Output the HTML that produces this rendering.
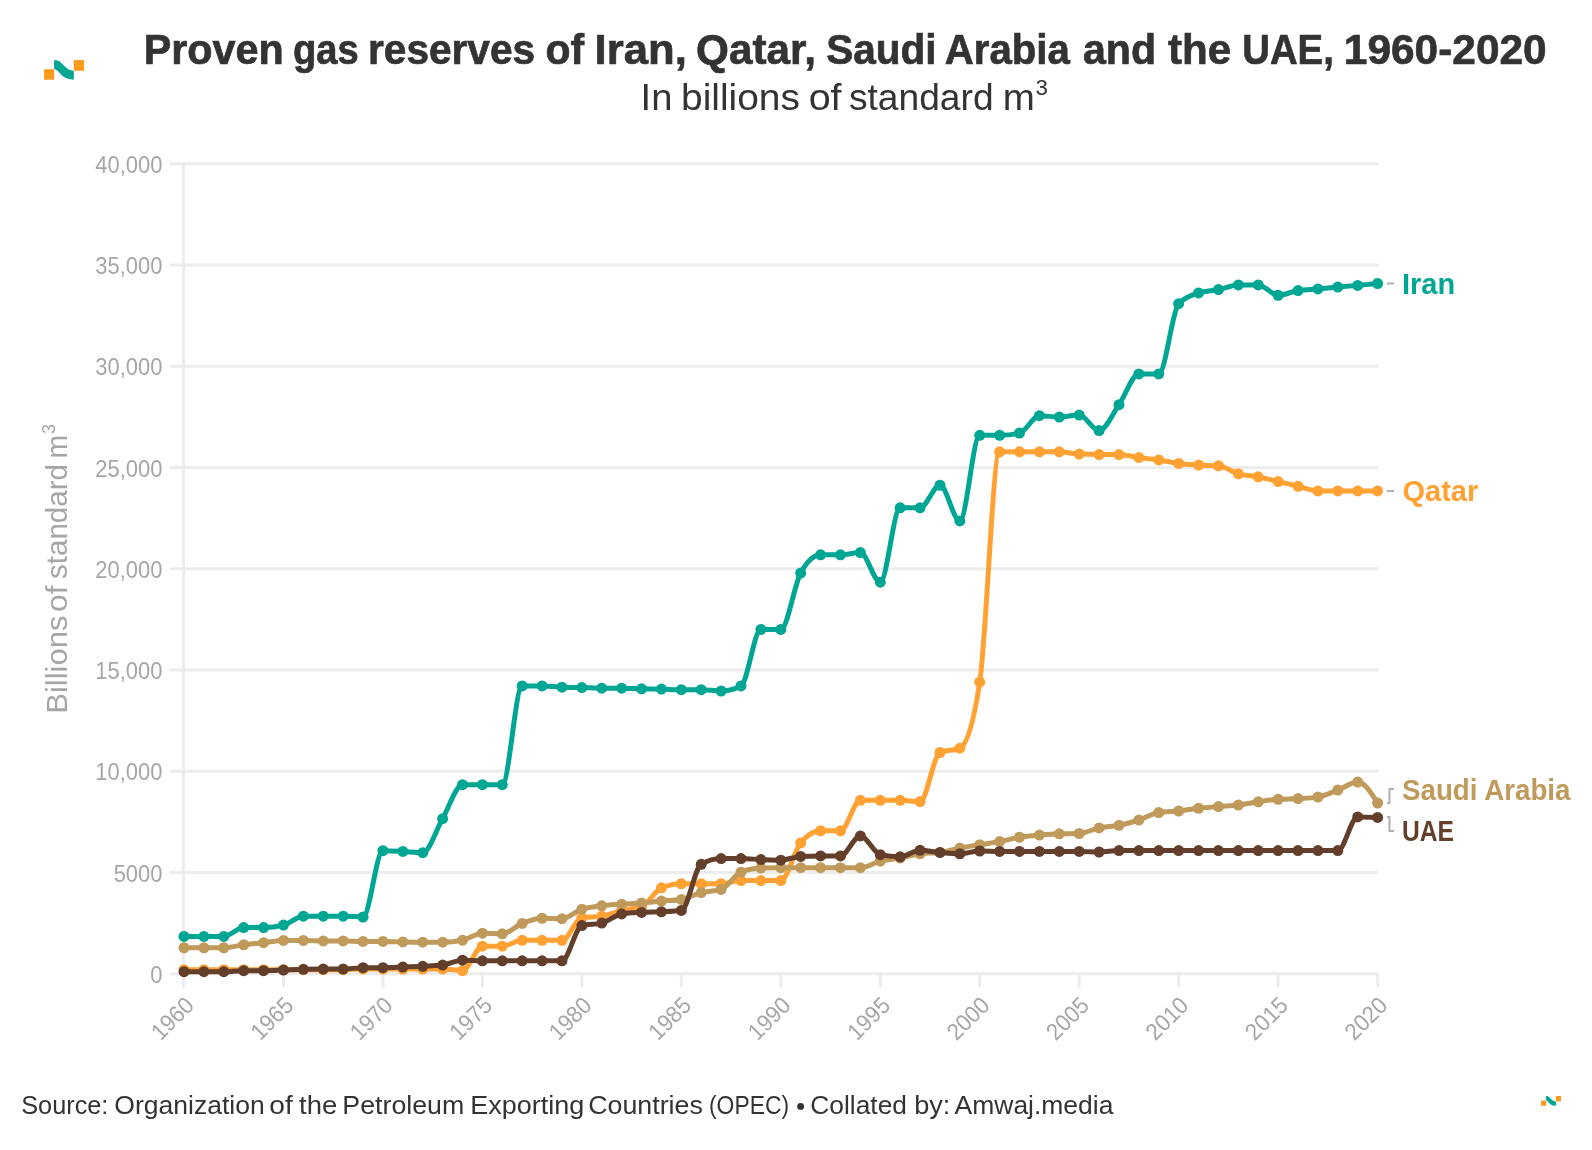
<!DOCTYPE html>
<html><head><meta charset="utf-8"><style>
html,body{margin:0;padding:0;background:#fff;width:1592px;height:1150px;overflow:hidden}
svg{display:block;will-change:transform}
text{font-family:"Liberation Sans",sans-serif}
.ax{font-size:23.5px;fill:#a6a6a6}
.yl{font-size:23px;fill:#a6a6a6}
.yt{font-size:29.6px;fill:#a6a6a6}
.lab{font-size:29px;font-weight:bold}
</style></head><body>
<svg width="1592" height="1150" viewBox="0 0 1592 1150">
<rect width="1592" height="1150" fill="#fff"/>
<!-- logo -->
<g id="lg" transform="translate(44,60)">
<rect x="0.1" y="9.2" width="10" height="10.5" fill="#ff9a1a"/>
<rect x="29.8" y="0.1" width="10.2" height="10.7" fill="#ff9a1a"/>
<path d="M10.1,0.1 C15,0.2 17.5,3 20,5.8 C23,9 26,10.6 29.8,10.8 L29.8,19.7 C26,19.6 22,18.4 19,16.3 C16.5,14.5 14.5,11.5 13.1,10.5 C12,9.7 11,9.2 10.1,9 Z" fill="#00a690"/>
</g>
<g font-size="42.7" font-weight="bold" fill="#333" stroke="#333" stroke-width="0.7"><text x="143.7" y="64.2" textLength="140.0" lengthAdjust="spacingAndGlyphs">Proven</text><text x="292.9" y="64.2" textLength="65.8" lengthAdjust="spacingAndGlyphs">gas</text><text x="368.0" y="64.2" textLength="167.1" lengthAdjust="spacingAndGlyphs">reserves</text><text x="545.4" y="64.2" textLength="38.7" lengthAdjust="spacingAndGlyphs">of</text><text x="594.6" y="64.2" textLength="92.3" lengthAdjust="spacingAndGlyphs">Iran,</text><text x="696.1" y="64.2" textLength="119.9" lengthAdjust="spacingAndGlyphs">Qatar,</text><text x="826.2" y="64.2" textLength="110.4" lengthAdjust="spacingAndGlyphs">Saudi</text><text x="944.8" y="64.2" textLength="125.1" lengthAdjust="spacingAndGlyphs">Arabia</text><text x="1082.9" y="64.2" textLength="73.2" lengthAdjust="spacingAndGlyphs">and</text><text x="1168.1" y="64.2" textLength="63.2" lengthAdjust="spacingAndGlyphs">the</text><text x="1242.3" y="64.2" textLength="91.5" lengthAdjust="spacingAndGlyphs">UAE,</text><text x="1343.8" y="64.2" textLength="202.9" lengthAdjust="spacingAndGlyphs">1960-2020</text></g>
<g font-size="37.5" fill="#333"><text x="640.6" y="110" textLength="31.8" lengthAdjust="spacingAndGlyphs">In</text><text x="681.0" y="110" textLength="118.9" lengthAdjust="spacingAndGlyphs">billions</text><text x="808.7" y="110" textLength="32.9" lengthAdjust="spacingAndGlyphs">of</text><text x="848.9" y="110" textLength="144.7" lengthAdjust="spacingAndGlyphs">standard</text><text x="1002.8" y="110" textLength="32.1" lengthAdjust="spacingAndGlyphs">m</text></g>
<text x="1035.5" y="95.2" font-size="22.3" fill="#333">3</text>
<line x1="170" y1="973.70" x2="1378.2" y2="973.70" stroke="#ececec" stroke-width="3"/>
<line x1="170" y1="872.45" x2="1378.2" y2="872.45" stroke="#ececec" stroke-width="3"/>
<line x1="170" y1="771.20" x2="1378.2" y2="771.20" stroke="#ececec" stroke-width="3"/>
<line x1="170" y1="669.95" x2="1378.2" y2="669.95" stroke="#ececec" stroke-width="3"/>
<line x1="170" y1="568.70" x2="1378.2" y2="568.70" stroke="#ececec" stroke-width="3"/>
<line x1="170" y1="467.45" x2="1378.2" y2="467.45" stroke="#ececec" stroke-width="3"/>
<line x1="170" y1="366.20" x2="1378.2" y2="366.20" stroke="#ececec" stroke-width="3"/>
<line x1="170" y1="264.95" x2="1378.2" y2="264.95" stroke="#ececec" stroke-width="3"/>
<line x1="170" y1="163.70" x2="1378.2" y2="163.70" stroke="#ececec" stroke-width="3"/>
<line x1="183.60" y1="162.20" x2="183.60" y2="987.5" stroke="#ececec" stroke-width="3"/>
<line x1="283.47" y1="973.70" x2="283.47" y2="987.5" stroke="#ececec" stroke-width="3"/>
<line x1="382.93" y1="973.70" x2="382.93" y2="987.5" stroke="#ececec" stroke-width="3"/>
<line x1="482.40" y1="973.70" x2="482.40" y2="987.5" stroke="#ececec" stroke-width="3"/>
<line x1="581.87" y1="973.70" x2="581.87" y2="987.5" stroke="#ececec" stroke-width="3"/>
<line x1="681.33" y1="973.70" x2="681.33" y2="987.5" stroke="#ececec" stroke-width="3"/>
<line x1="780.80" y1="973.70" x2="780.80" y2="987.5" stroke="#ececec" stroke-width="3"/>
<line x1="880.27" y1="973.70" x2="880.27" y2="987.5" stroke="#ececec" stroke-width="3"/>
<line x1="979.73" y1="973.70" x2="979.73" y2="987.5" stroke="#ececec" stroke-width="3"/>
<line x1="1079.20" y1="973.70" x2="1079.20" y2="987.5" stroke="#ececec" stroke-width="3"/>
<line x1="1178.67" y1="973.70" x2="1178.67" y2="987.5" stroke="#ececec" stroke-width="3"/>
<line x1="1278.13" y1="973.70" x2="1278.13" y2="987.5" stroke="#ececec" stroke-width="3"/>
<line x1="1377.60" y1="973.70" x2="1377.60" y2="987.5" stroke="#ececec" stroke-width="3"/>
<text x="162.5" y="982.80" text-anchor="end" class="yl" textLength="12.22" lengthAdjust="spacingAndGlyphs">0</text>
<text x="162.5" y="881.55" text-anchor="end" class="yl" textLength="48.87" lengthAdjust="spacingAndGlyphs">5000</text>
<text x="162.5" y="780.30" text-anchor="end" class="yl" textLength="67.19" lengthAdjust="spacingAndGlyphs">10,000</text>
<text x="162.5" y="679.05" text-anchor="end" class="yl" textLength="67.19" lengthAdjust="spacingAndGlyphs">15,000</text>
<text x="162.5" y="577.80" text-anchor="end" class="yl" textLength="67.19" lengthAdjust="spacingAndGlyphs">20,000</text>
<text x="162.5" y="476.55" text-anchor="end" class="yl" textLength="67.19" lengthAdjust="spacingAndGlyphs">25,000</text>
<text x="162.5" y="375.30" text-anchor="end" class="yl" textLength="67.19" lengthAdjust="spacingAndGlyphs">30,000</text>
<text x="162.5" y="274.05" text-anchor="end" class="yl" textLength="67.19" lengthAdjust="spacingAndGlyphs">35,000</text>
<text x="162.5" y="172.80" text-anchor="end" class="yl" textLength="67.19" lengthAdjust="spacingAndGlyphs">40,000</text>
<text transform="translate(189.50,1001) rotate(-45)" x="0" y="0" text-anchor="end" dy="0.35em" class="ax" textLength="49" lengthAdjust="spacingAndGlyphs">1960</text>
<text transform="translate(288.97,1001) rotate(-45)" x="0" y="0" text-anchor="end" dy="0.35em" class="ax" textLength="49" lengthAdjust="spacingAndGlyphs">1965</text>
<text transform="translate(388.43,1001) rotate(-45)" x="0" y="0" text-anchor="end" dy="0.35em" class="ax" textLength="49" lengthAdjust="spacingAndGlyphs">1970</text>
<text transform="translate(487.90,1001) rotate(-45)" x="0" y="0" text-anchor="end" dy="0.35em" class="ax" textLength="49" lengthAdjust="spacingAndGlyphs">1975</text>
<text transform="translate(587.37,1001) rotate(-45)" x="0" y="0" text-anchor="end" dy="0.35em" class="ax" textLength="49" lengthAdjust="spacingAndGlyphs">1980</text>
<text transform="translate(686.83,1001) rotate(-45)" x="0" y="0" text-anchor="end" dy="0.35em" class="ax" textLength="49" lengthAdjust="spacingAndGlyphs">1985</text>
<text transform="translate(786.30,1001) rotate(-45)" x="0" y="0" text-anchor="end" dy="0.35em" class="ax" textLength="49" lengthAdjust="spacingAndGlyphs">1990</text>
<text transform="translate(885.77,1001) rotate(-45)" x="0" y="0" text-anchor="end" dy="0.35em" class="ax" textLength="49" lengthAdjust="spacingAndGlyphs">1995</text>
<text transform="translate(985.23,1001) rotate(-45)" x="0" y="0" text-anchor="end" dy="0.35em" class="ax" textLength="49" lengthAdjust="spacingAndGlyphs">2000</text>
<text transform="translate(1084.70,1001) rotate(-45)" x="0" y="0" text-anchor="end" dy="0.35em" class="ax" textLength="49" lengthAdjust="spacingAndGlyphs">2005</text>
<text transform="translate(1184.17,1001) rotate(-45)" x="0" y="0" text-anchor="end" dy="0.35em" class="ax" textLength="49" lengthAdjust="spacingAndGlyphs">2010</text>
<text transform="translate(1283.63,1001) rotate(-45)" x="0" y="0" text-anchor="end" dy="0.35em" class="ax" textLength="49" lengthAdjust="spacingAndGlyphs">2015</text>
<text transform="translate(1383.10,1001) rotate(-45)" x="0" y="0" text-anchor="end" dy="0.35em" class="ax" textLength="49" lengthAdjust="spacingAndGlyphs">2020</text>
<g transform="translate(67.3,712.5) rotate(-90)" class="yt"><text x="-1.3" y="0" textLength="98.3" lengthAdjust="spacingAndGlyphs">Billions</text><text x="100.6" y="0" textLength="26.5" lengthAdjust="spacingAndGlyphs">of</text><text x="133.4" y="0" textLength="115.2" lengthAdjust="spacingAndGlyphs">standard</text><text x="253.9" y="0" textLength="23.6" lengthAdjust="spacingAndGlyphs">m</text></g>
<text transform="translate(55.1,434) rotate(-90)" font-size="18" fill="#a6a6a6">3</text>
<path d="M184.00,936.38C190.63,936.38,197.26,936.38,203.89,936.38C210.52,936.38,217.16,936.38,223.79,936.38C230.42,936.38,237.05,927.57,243.68,927.57C250.31,927.57,256.94,927.57,263.57,927.57C270.20,927.57,276.84,926.75,283.47,925.10C290.10,923.45,296.73,916.23,303.36,916.23C309.99,916.23,316.62,916.23,323.25,916.23C329.88,916.23,336.52,916.23,343.15,916.23C349.78,916.23,356.41,917.00,363.04,917.00C369.67,917.00,376.30,850.68,382.93,850.68C389.56,850.68,396.20,851.06,402.83,851.39C409.46,851.72,416.09,852.69,422.72,852.69C429.35,852.69,435.98,829.99,442.61,818.65C449.24,807.30,455.88,784.63,462.51,784.63C469.14,784.63,475.77,784.67,482.40,784.67C489.03,784.67,495.66,784.67,502.29,784.67C508.92,784.67,515.56,685.95,522.19,685.95C528.82,685.95,535.45,685.95,542.08,685.95C548.71,685.95,555.34,686.99,561.97,687.20C568.60,687.42,575.24,687.37,581.87,687.53C588.50,687.69,595.13,688.18,601.76,688.18C608.39,688.18,615.02,688.18,621.65,688.18C628.28,688.18,634.92,688.63,641.55,688.78C648.18,688.93,654.81,688.93,661.44,689.09C668.07,689.24,674.70,689.71,681.33,689.71C687.96,689.71,694.60,689.71,701.23,689.71C707.86,689.71,714.49,691.01,721.12,691.01C727.75,691.01,734.38,689.32,741.01,685.95C747.64,682.57,754.28,629.45,760.91,629.45C767.54,629.45,774.17,629.45,780.80,629.45C787.43,629.45,794.06,585.20,800.69,573.03C807.32,560.87,813.96,554.79,820.59,554.79C827.22,554.79,833.85,554.79,840.48,554.79C847.11,554.79,853.74,552.60,860.37,552.60C867.00,552.60,873.64,582.17,880.27,582.17C886.90,582.17,893.53,507.85,900.16,507.85C906.79,507.85,913.42,507.85,920.05,507.85C926.68,507.85,933.32,485.25,939.95,485.25C946.58,485.25,953.21,520.89,959.84,520.89C966.47,520.89,973.10,435.27,979.73,435.27C986.36,435.27,993.00,435.27,999.63,435.27C1006.26,435.27,1012.89,434.55,1019.52,433.11C1026.15,431.66,1032.78,415.73,1039.41,415.73C1046.04,415.73,1052.68,417.03,1059.31,417.03C1065.94,417.03,1072.57,415.04,1079.20,415.04C1085.83,415.04,1092.46,430.55,1099.09,430.55C1105.72,430.55,1112.36,414.15,1118.99,404.72C1125.62,395.28,1132.25,373.94,1138.88,373.94C1145.51,373.94,1152.14,373.94,1158.77,373.94C1165.40,373.94,1172.04,310.92,1178.67,303.71C1185.30,296.50,1191.93,295.08,1198.56,292.90C1205.19,290.71,1211.82,290.94,1218.45,289.61C1225.08,288.28,1231.72,284.92,1238.35,284.92C1244.98,284.92,1251.61,284.92,1258.24,284.92C1264.87,284.92,1271.50,295.24,1278.13,295.24C1284.76,295.24,1291.40,291.60,1298.03,290.55C1304.66,289.49,1311.29,289.49,1317.92,288.91C1324.55,288.32,1331.18,287.61,1337.81,287.02C1344.44,286.44,1351.08,285.97,1357.71,285.38C1364.34,284.80,1370.97,284.15,1377.60,283.50" fill="none" stroke="#00a694" stroke-width="5" stroke-linejoin="round" stroke-linecap="round"/>
<g fill="#00a694"><circle cx="184.00" cy="936.38" r="5.5"/><circle cx="203.89" cy="936.38" r="5.5"/><circle cx="223.79" cy="936.38" r="5.5"/><circle cx="243.68" cy="927.57" r="5.5"/><circle cx="263.57" cy="927.57" r="5.5"/><circle cx="283.47" cy="925.10" r="5.5"/><circle cx="303.36" cy="916.23" r="5.5"/><circle cx="323.25" cy="916.23" r="5.5"/><circle cx="343.15" cy="916.23" r="5.5"/><circle cx="363.04" cy="917.00" r="5.5"/><circle cx="382.93" cy="850.68" r="5.5"/><circle cx="402.83" cy="851.39" r="5.5"/><circle cx="422.72" cy="852.69" r="5.5"/><circle cx="442.61" cy="818.65" r="5.5"/><circle cx="462.51" cy="784.63" r="5.5"/><circle cx="482.40" cy="784.67" r="5.5"/><circle cx="502.29" cy="784.67" r="5.5"/><circle cx="522.19" cy="685.95" r="5.5"/><circle cx="542.08" cy="685.95" r="5.5"/><circle cx="561.97" cy="687.20" r="5.5"/><circle cx="581.87" cy="687.53" r="5.5"/><circle cx="601.76" cy="688.18" r="5.5"/><circle cx="621.65" cy="688.18" r="5.5"/><circle cx="641.55" cy="688.78" r="5.5"/><circle cx="661.44" cy="689.09" r="5.5"/><circle cx="681.33" cy="689.71" r="5.5"/><circle cx="701.23" cy="689.71" r="5.5"/><circle cx="721.12" cy="691.01" r="5.5"/><circle cx="741.01" cy="685.95" r="5.5"/><circle cx="760.91" cy="629.45" r="5.5"/><circle cx="780.80" cy="629.45" r="5.5"/><circle cx="800.69" cy="573.03" r="5.5"/><circle cx="820.59" cy="554.79" r="5.5"/><circle cx="840.48" cy="554.79" r="5.5"/><circle cx="860.37" cy="552.60" r="5.5"/><circle cx="880.27" cy="582.17" r="5.5"/><circle cx="900.16" cy="507.85" r="5.5"/><circle cx="920.05" cy="507.85" r="5.5"/><circle cx="939.95" cy="485.25" r="5.5"/><circle cx="959.84" cy="520.89" r="5.5"/><circle cx="979.73" cy="435.27" r="5.5"/><circle cx="999.63" cy="435.27" r="5.5"/><circle cx="1019.52" cy="433.11" r="5.5"/><circle cx="1039.41" cy="415.73" r="5.5"/><circle cx="1059.31" cy="417.03" r="5.5"/><circle cx="1079.20" cy="415.04" r="5.5"/><circle cx="1099.09" cy="430.55" r="5.5"/><circle cx="1118.99" cy="404.72" r="5.5"/><circle cx="1138.88" cy="373.94" r="5.5"/><circle cx="1158.77" cy="373.94" r="5.5"/><circle cx="1178.67" cy="303.71" r="5.5"/><circle cx="1198.56" cy="292.90" r="5.5"/><circle cx="1218.45" cy="289.61" r="5.5"/><circle cx="1238.35" cy="284.92" r="5.5"/><circle cx="1258.24" cy="284.92" r="5.5"/><circle cx="1278.13" cy="295.24" r="5.5"/><circle cx="1298.03" cy="290.55" r="5.5"/><circle cx="1317.92" cy="288.91" r="5.5"/><circle cx="1337.81" cy="287.02" r="5.5"/><circle cx="1357.71" cy="285.38" r="5.5"/><circle cx="1377.60" cy="283.50" r="5.5"/></g>
<path d="M184.00,969.65C190.63,969.65,197.26,969.65,203.89,969.65C210.52,969.65,217.16,969.65,223.79,969.65C230.42,969.65,237.05,969.65,243.68,969.65C250.31,969.65,256.94,969.65,263.57,969.65C270.20,969.65,276.84,969.65,283.47,969.65C290.10,969.65,296.73,969.65,303.36,969.65C309.99,969.65,316.62,969.65,323.25,969.65C329.88,969.65,336.52,969.65,343.15,969.65C349.78,969.65,356.41,969.04,363.04,969.04C369.67,969.04,376.30,969.04,382.93,969.04C389.56,969.04,396.20,969.04,402.83,969.04C409.46,969.04,416.09,969.04,422.72,969.04C429.35,969.04,435.98,969.04,442.61,969.04C449.24,969.04,455.88,970.66,462.51,970.66C469.14,970.66,475.77,946.16,482.40,946.16C489.03,946.16,495.66,946.16,502.29,946.16C508.92,946.16,515.56,940.37,522.19,940.37C528.82,940.37,535.45,940.37,542.08,940.37C548.71,940.37,555.34,940.37,561.97,940.37C568.60,940.37,575.24,918.78,581.87,917.73C588.50,916.68,595.13,917.20,601.76,916.15C608.39,915.10,615.02,912.05,621.65,910.48C628.28,908.91,634.92,909.22,641.55,906.71C648.18,904.20,654.81,890.57,661.44,887.84C668.07,885.11,674.70,883.75,681.33,883.75C687.96,883.75,694.60,883.75,701.23,883.75C707.86,883.75,714.49,883.75,721.12,883.75C727.75,883.75,734.38,880.61,741.01,880.61C747.64,880.61,754.28,880.61,760.91,880.61C767.54,880.61,774.17,880.61,780.80,880.61C787.43,880.61,794.06,851.02,800.69,842.91C807.32,834.79,813.96,830.74,820.59,830.74C827.22,830.74,833.85,830.74,840.48,830.74C847.11,830.74,853.74,800.32,860.37,800.32C867.00,800.32,873.64,800.32,880.27,800.32C886.90,800.32,893.53,800.32,900.16,800.32C906.79,800.32,913.42,801.62,920.05,801.62C926.68,801.62,933.32,755.41,939.95,752.51C946.58,749.61,953.21,751.06,959.84,748.16C966.47,745.25,973.10,726.14,979.73,682.10C986.36,638.06,993.00,451.80,999.63,451.80C1006.26,451.80,1012.89,451.80,1019.52,451.80C1026.15,451.80,1032.78,451.80,1039.41,451.80C1046.04,451.80,1052.68,451.80,1059.31,451.80C1065.94,451.80,1072.57,453.72,1079.20,454.04C1085.83,454.37,1092.46,454.53,1099.09,454.53C1105.72,454.53,1112.36,454.53,1118.99,454.53C1125.62,454.53,1132.25,456.67,1138.88,457.57C1145.51,458.47,1152.14,458.94,1158.77,459.92C1165.40,460.90,1172.04,462.58,1178.67,463.44C1185.30,464.30,1191.93,464.69,1198.56,465.08C1205.19,465.47,1211.82,465.32,1218.45,465.79C1225.08,466.26,1231.72,471.95,1238.35,473.79C1244.98,475.63,1251.61,475.55,1258.24,476.85C1264.87,478.14,1271.50,479.98,1278.13,481.54C1284.76,483.11,1291.40,484.68,1298.03,486.24C1304.66,487.81,1311.29,490.94,1317.92,490.94C1324.55,490.94,1331.18,490.94,1337.81,490.94C1344.44,490.94,1351.08,490.94,1357.71,490.94C1364.34,490.94,1370.97,490.94,1377.60,490.94" fill="none" stroke="#ffa133" stroke-width="5" stroke-linejoin="round" stroke-linecap="round"/>
<g fill="#ffa133"><circle cx="184.00" cy="969.65" r="5.5"/><circle cx="203.89" cy="969.65" r="5.5"/><circle cx="223.79" cy="969.65" r="5.5"/><circle cx="243.68" cy="969.65" r="5.5"/><circle cx="263.57" cy="969.65" r="5.5"/><circle cx="283.47" cy="969.65" r="5.5"/><circle cx="303.36" cy="969.65" r="5.5"/><circle cx="323.25" cy="969.65" r="5.5"/><circle cx="343.15" cy="969.65" r="5.5"/><circle cx="363.04" cy="969.04" r="5.5"/><circle cx="382.93" cy="969.04" r="5.5"/><circle cx="402.83" cy="969.04" r="5.5"/><circle cx="422.72" cy="969.04" r="5.5"/><circle cx="442.61" cy="969.04" r="5.5"/><circle cx="462.51" cy="970.66" r="5.5"/><circle cx="482.40" cy="946.16" r="5.5"/><circle cx="502.29" cy="946.16" r="5.5"/><circle cx="522.19" cy="940.37" r="5.5"/><circle cx="542.08" cy="940.37" r="5.5"/><circle cx="561.97" cy="940.37" r="5.5"/><circle cx="581.87" cy="917.73" r="5.5"/><circle cx="601.76" cy="916.15" r="5.5"/><circle cx="621.65" cy="910.48" r="5.5"/><circle cx="641.55" cy="906.71" r="5.5"/><circle cx="661.44" cy="887.84" r="5.5"/><circle cx="681.33" cy="883.75" r="5.5"/><circle cx="701.23" cy="883.75" r="5.5"/><circle cx="721.12" cy="883.75" r="5.5"/><circle cx="741.01" cy="880.61" r="5.5"/><circle cx="760.91" cy="880.61" r="5.5"/><circle cx="780.80" cy="880.61" r="5.5"/><circle cx="800.69" cy="842.91" r="5.5"/><circle cx="820.59" cy="830.74" r="5.5"/><circle cx="840.48" cy="830.74" r="5.5"/><circle cx="860.37" cy="800.32" r="5.5"/><circle cx="880.27" cy="800.32" r="5.5"/><circle cx="900.16" cy="800.32" r="5.5"/><circle cx="920.05" cy="801.62" r="5.5"/><circle cx="939.95" cy="752.51" r="5.5"/><circle cx="959.84" cy="748.16" r="5.5"/><circle cx="979.73" cy="682.10" r="5.5"/><circle cx="999.63" cy="451.80" r="5.5"/><circle cx="1019.52" cy="451.80" r="5.5"/><circle cx="1039.41" cy="451.80" r="5.5"/><circle cx="1059.31" cy="451.80" r="5.5"/><circle cx="1079.20" cy="454.04" r="5.5"/><circle cx="1099.09" cy="454.53" r="5.5"/><circle cx="1118.99" cy="454.53" r="5.5"/><circle cx="1138.88" cy="457.57" r="5.5"/><circle cx="1158.77" cy="459.92" r="5.5"/><circle cx="1178.67" cy="463.44" r="5.5"/><circle cx="1198.56" cy="465.08" r="5.5"/><circle cx="1218.45" cy="465.79" r="5.5"/><circle cx="1238.35" cy="473.79" r="5.5"/><circle cx="1258.24" cy="476.85" r="5.5"/><circle cx="1278.13" cy="481.54" r="5.5"/><circle cx="1298.03" cy="486.24" r="5.5"/><circle cx="1317.92" cy="490.94" r="5.5"/><circle cx="1337.81" cy="490.94" r="5.5"/><circle cx="1357.71" cy="490.94" r="5.5"/><circle cx="1377.60" cy="490.94" r="5.5"/></g>
<path d="M184.00,947.74C190.63,947.74,197.26,947.74,203.89,947.74C210.52,947.74,217.16,947.74,223.79,947.74C230.42,947.74,237.05,945.58,243.68,944.74C250.31,943.91,256.94,943.44,263.57,942.72C270.20,942.00,276.84,940.43,283.47,940.43C290.10,940.43,296.73,940.43,303.36,940.43C309.99,940.43,316.62,940.94,323.25,940.94C329.88,940.94,336.52,940.94,343.15,940.94C349.78,940.94,356.41,941.44,363.04,941.44C369.67,941.44,376.30,941.44,382.93,941.44C389.56,941.44,396.20,941.82,402.83,941.95C409.46,942.07,416.09,942.19,422.72,942.19C429.35,942.19,435.98,942.19,442.61,942.19C449.24,942.19,455.88,941.52,462.51,940.19C469.14,938.85,475.77,933.20,482.40,933.20C489.03,933.20,495.66,933.87,502.29,933.87C508.92,933.87,515.56,925.98,522.19,923.38C528.82,920.77,535.45,918.24,542.08,918.24C548.71,918.24,555.34,918.66,561.97,918.66C568.60,918.66,575.24,911.37,581.87,909.22C588.50,907.08,595.13,906.62,601.76,905.78C608.39,904.94,615.02,904.67,621.65,904.20C628.28,903.73,634.92,903.47,641.55,902.95C648.18,902.42,654.81,901.64,661.44,901.06C668.07,900.49,674.70,900.54,681.33,899.48C687.96,898.43,694.60,894.24,701.23,892.56C707.86,890.88,714.49,891.51,721.12,889.42C727.75,887.33,734.38,874.85,741.01,872.13C747.64,869.40,754.28,868.28,760.91,868.04C767.54,867.79,774.17,867.67,780.80,867.67C787.43,867.67,794.06,867.67,800.69,867.67C807.32,867.67,813.96,867.67,820.59,867.67C827.22,867.67,833.85,867.67,840.48,867.67C847.11,867.67,853.74,867.67,860.37,867.67C867.00,867.67,873.64,862.74,880.27,861.15C886.90,859.56,893.53,859.34,900.16,858.11C906.79,856.88,913.42,854.62,920.05,853.76C926.68,852.90,933.32,853.33,939.95,852.46C946.58,851.60,953.21,849.41,959.84,848.11C966.47,846.81,973.10,845.73,979.73,844.65C986.36,843.56,993.00,842.82,999.63,841.59C1006.26,840.36,1012.89,838.34,1019.52,837.26C1026.15,836.17,1032.78,835.65,1039.41,835.07C1046.04,834.49,1052.68,833.96,1059.31,833.77C1065.94,833.58,1072.57,833.68,1079.20,833.49C1085.83,833.30,1092.46,829.28,1099.09,827.92C1105.72,826.56,1112.36,826.67,1118.99,825.35C1125.62,824.03,1132.25,822.14,1138.88,820.00C1145.51,817.86,1152.14,813.51,1158.77,812.51C1165.40,811.51,1172.04,811.72,1178.67,811.01C1185.30,810.30,1191.93,808.99,1198.56,808.24C1205.19,807.49,1211.82,807.05,1218.45,806.52C1225.08,805.98,1231.72,805.80,1238.35,805.02C1244.98,804.23,1251.61,802.78,1258.24,801.82C1264.87,800.86,1271.50,799.68,1278.13,799.25C1284.76,798.81,1291.40,798.96,1298.03,798.60C1304.66,798.24,1311.29,798.10,1317.92,797.10C1324.55,796.10,1331.18,792.53,1337.81,790.03C1344.44,787.54,1351.08,782.11,1357.71,782.11C1364.34,782.11,1370.97,792.55,1377.60,802.99" fill="none" stroke="#bf9a5a" stroke-width="5" stroke-linejoin="round" stroke-linecap="round"/>
<g fill="#bf9a5a"><circle cx="184.00" cy="947.74" r="5.5"/><circle cx="203.89" cy="947.74" r="5.5"/><circle cx="223.79" cy="947.74" r="5.5"/><circle cx="243.68" cy="944.74" r="5.5"/><circle cx="263.57" cy="942.72" r="5.5"/><circle cx="283.47" cy="940.43" r="5.5"/><circle cx="303.36" cy="940.43" r="5.5"/><circle cx="323.25" cy="940.94" r="5.5"/><circle cx="343.15" cy="940.94" r="5.5"/><circle cx="363.04" cy="941.44" r="5.5"/><circle cx="382.93" cy="941.44" r="5.5"/><circle cx="402.83" cy="941.95" r="5.5"/><circle cx="422.72" cy="942.19" r="5.5"/><circle cx="442.61" cy="942.19" r="5.5"/><circle cx="462.51" cy="940.19" r="5.5"/><circle cx="482.40" cy="933.20" r="5.5"/><circle cx="502.29" cy="933.87" r="5.5"/><circle cx="522.19" cy="923.38" r="5.5"/><circle cx="542.08" cy="918.24" r="5.5"/><circle cx="561.97" cy="918.66" r="5.5"/><circle cx="581.87" cy="909.22" r="5.5"/><circle cx="601.76" cy="905.78" r="5.5"/><circle cx="621.65" cy="904.20" r="5.5"/><circle cx="641.55" cy="902.95" r="5.5"/><circle cx="661.44" cy="901.06" r="5.5"/><circle cx="681.33" cy="899.48" r="5.5"/><circle cx="701.23" cy="892.56" r="5.5"/><circle cx="721.12" cy="889.42" r="5.5"/><circle cx="741.01" cy="872.13" r="5.5"/><circle cx="760.91" cy="868.04" r="5.5"/><circle cx="780.80" cy="867.67" r="5.5"/><circle cx="800.69" cy="867.67" r="5.5"/><circle cx="820.59" cy="867.67" r="5.5"/><circle cx="840.48" cy="867.67" r="5.5"/><circle cx="860.37" cy="867.67" r="5.5"/><circle cx="880.27" cy="861.15" r="5.5"/><circle cx="900.16" cy="858.11" r="5.5"/><circle cx="920.05" cy="853.76" r="5.5"/><circle cx="939.95" cy="852.46" r="5.5"/><circle cx="959.84" cy="848.11" r="5.5"/><circle cx="979.73" cy="844.65" r="5.5"/><circle cx="999.63" cy="841.59" r="5.5"/><circle cx="1019.52" cy="837.26" r="5.5"/><circle cx="1039.41" cy="835.07" r="5.5"/><circle cx="1059.31" cy="833.77" r="5.5"/><circle cx="1079.20" cy="833.49" r="5.5"/><circle cx="1099.09" cy="827.92" r="5.5"/><circle cx="1118.99" cy="825.35" r="5.5"/><circle cx="1138.88" cy="820.00" r="5.5"/><circle cx="1158.77" cy="812.51" r="5.5"/><circle cx="1178.67" cy="811.01" r="5.5"/><circle cx="1198.56" cy="808.24" r="5.5"/><circle cx="1218.45" cy="806.52" r="5.5"/><circle cx="1238.35" cy="805.02" r="5.5"/><circle cx="1258.24" cy="801.82" r="5.5"/><circle cx="1278.13" cy="799.25" r="5.5"/><circle cx="1298.03" cy="798.60" r="5.5"/><circle cx="1317.92" cy="797.10" r="5.5"/><circle cx="1337.81" cy="790.03" r="5.5"/><circle cx="1357.71" cy="782.11" r="5.5"/><circle cx="1377.60" cy="802.99" r="5.5"/></g>
<path d="M184.00,971.70C190.63,971.70,197.26,971.70,203.89,971.70C210.52,971.70,217.16,971.70,223.79,971.70C230.42,971.70,237.05,970.68,243.68,970.68C250.31,970.68,256.94,970.68,263.57,970.68C270.20,970.68,276.84,970.31,283.47,970.08C290.10,969.84,296.73,969.42,303.36,969.29C309.99,969.15,316.62,969.08,323.25,969.08C329.88,969.08,336.52,969.08,343.15,969.08C349.78,969.08,356.41,967.67,363.04,967.67C369.67,967.67,376.30,967.67,382.93,967.67C389.56,967.67,396.20,967.29,402.83,967.06C409.46,966.83,416.09,966.60,422.72,966.27C429.35,965.93,435.98,965.86,442.61,965.05C449.24,964.24,455.88,960.23,462.51,960.23C469.14,960.23,475.77,960.80,482.40,960.80C489.03,960.80,495.66,960.80,502.29,960.80C508.92,960.80,515.56,960.80,522.19,960.80C528.82,960.80,535.45,960.80,542.08,960.80C548.71,960.80,555.34,960.80,561.97,960.80C568.60,960.80,575.24,927.26,581.87,925.59C588.50,923.91,595.13,924.75,601.76,923.08C608.39,921.40,615.02,915.02,621.65,913.96C628.28,912.91,634.92,912.75,641.55,912.38C648.18,912.02,654.81,912.07,661.44,911.76C668.07,911.44,674.70,911.33,681.33,910.48C687.96,909.63,694.60,868.05,701.23,864.27C707.86,860.49,714.49,858.60,721.12,858.60C727.75,858.60,734.38,858.60,741.01,858.60C747.64,858.60,754.28,859.29,760.91,859.55C767.54,859.81,774.17,860.18,780.80,860.18C787.43,860.18,794.06,856.69,800.69,856.39C807.32,856.09,813.96,855.95,820.59,855.95C827.22,855.95,833.85,855.95,840.48,855.95C847.11,855.95,853.74,835.96,860.37,835.96C867.00,835.96,873.64,853.19,880.27,854.63C886.90,856.07,893.53,856.80,900.16,856.80C906.79,856.80,913.42,850.30,920.05,850.30C926.68,850.30,933.32,851.89,939.95,852.46C946.58,853.04,953.21,853.76,959.84,853.76C966.47,853.76,973.10,850.99,979.73,850.99C986.36,850.99,993.00,851.39,999.63,851.39C1006.26,851.39,1012.89,851.39,1019.52,851.39C1026.15,851.39,1032.78,851.39,1039.41,851.39C1046.04,851.39,1052.68,851.39,1059.31,851.39C1065.94,851.39,1072.57,851.39,1079.20,851.39C1085.83,851.39,1092.46,852.00,1099.09,852.00C1105.72,852.00,1112.36,850.62,1118.99,850.62C1125.62,850.62,1132.25,850.62,1138.88,850.62C1145.51,850.62,1152.14,850.62,1158.77,850.62C1165.40,850.62,1172.04,850.62,1178.67,850.62C1185.30,850.62,1191.93,850.62,1198.56,850.62C1205.19,850.62,1211.82,850.62,1218.45,850.62C1225.08,850.62,1231.72,850.62,1238.35,850.62C1244.98,850.62,1251.61,850.62,1258.24,850.62C1264.87,850.62,1271.50,850.62,1278.13,850.62C1284.76,850.62,1291.40,850.62,1298.03,850.62C1304.66,850.62,1311.29,850.62,1317.92,850.62C1324.55,850.62,1331.18,850.62,1337.81,850.62C1344.44,850.62,1351.08,816.97,1357.71,816.97C1364.34,816.97,1370.97,817.22,1377.60,817.47" fill="none" stroke="#633f2b" stroke-width="5" stroke-linejoin="round" stroke-linecap="round"/>
<g fill="#633f2b"><circle cx="184.00" cy="971.70" r="5.5"/><circle cx="203.89" cy="971.70" r="5.5"/><circle cx="223.79" cy="971.70" r="5.5"/><circle cx="243.68" cy="970.68" r="5.5"/><circle cx="263.57" cy="970.68" r="5.5"/><circle cx="283.47" cy="970.08" r="5.5"/><circle cx="303.36" cy="969.29" r="5.5"/><circle cx="323.25" cy="969.08" r="5.5"/><circle cx="343.15" cy="969.08" r="5.5"/><circle cx="363.04" cy="967.67" r="5.5"/><circle cx="382.93" cy="967.67" r="5.5"/><circle cx="402.83" cy="967.06" r="5.5"/><circle cx="422.72" cy="966.27" r="5.5"/><circle cx="442.61" cy="965.05" r="5.5"/><circle cx="462.51" cy="960.23" r="5.5"/><circle cx="482.40" cy="960.80" r="5.5"/><circle cx="502.29" cy="960.80" r="5.5"/><circle cx="522.19" cy="960.80" r="5.5"/><circle cx="542.08" cy="960.80" r="5.5"/><circle cx="561.97" cy="960.80" r="5.5"/><circle cx="581.87" cy="925.59" r="5.5"/><circle cx="601.76" cy="923.08" r="5.5"/><circle cx="621.65" cy="913.96" r="5.5"/><circle cx="641.55" cy="912.38" r="5.5"/><circle cx="661.44" cy="911.76" r="5.5"/><circle cx="681.33" cy="910.48" r="5.5"/><circle cx="701.23" cy="864.27" r="5.5"/><circle cx="721.12" cy="858.60" r="5.5"/><circle cx="741.01" cy="858.60" r="5.5"/><circle cx="760.91" cy="859.55" r="5.5"/><circle cx="780.80" cy="860.18" r="5.5"/><circle cx="800.69" cy="856.39" r="5.5"/><circle cx="820.59" cy="855.95" r="5.5"/><circle cx="840.48" cy="855.95" r="5.5"/><circle cx="860.37" cy="835.96" r="5.5"/><circle cx="880.27" cy="854.63" r="5.5"/><circle cx="900.16" cy="856.80" r="5.5"/><circle cx="920.05" cy="850.30" r="5.5"/><circle cx="939.95" cy="852.46" r="5.5"/><circle cx="959.84" cy="853.76" r="5.5"/><circle cx="979.73" cy="850.99" r="5.5"/><circle cx="999.63" cy="851.39" r="5.5"/><circle cx="1019.52" cy="851.39" r="5.5"/><circle cx="1039.41" cy="851.39" r="5.5"/><circle cx="1059.31" cy="851.39" r="5.5"/><circle cx="1079.20" cy="851.39" r="5.5"/><circle cx="1099.09" cy="852.00" r="5.5"/><circle cx="1118.99" cy="850.62" r="5.5"/><circle cx="1138.88" cy="850.62" r="5.5"/><circle cx="1158.77" cy="850.62" r="5.5"/><circle cx="1178.67" cy="850.62" r="5.5"/><circle cx="1198.56" cy="850.62" r="5.5"/><circle cx="1218.45" cy="850.62" r="5.5"/><circle cx="1238.35" cy="850.62" r="5.5"/><circle cx="1258.24" cy="850.62" r="5.5"/><circle cx="1278.13" cy="850.62" r="5.5"/><circle cx="1298.03" cy="850.62" r="5.5"/><circle cx="1317.92" cy="850.62" r="5.5"/><circle cx="1337.81" cy="850.62" r="5.5"/><circle cx="1357.71" cy="816.97" r="5.5"/><circle cx="1377.60" cy="817.47" r="5.5"/></g>

<!-- labels -->
<g fill="none" stroke="#b0b0b0" stroke-width="2">
<line x1="1387" y1="283.5" x2="1394" y2="283.5"/>
<line x1="1387" y1="491" x2="1394" y2="491"/>
<path d="M1387,803 H1389.5 V789 H1394"/>
<path d="M1387,817 H1389.5 V831 H1394"/>
</g>
<text x="1402" y="294" class="lab" fill="#00a694">Iran</text>
<text x="1402.5" y="501" class="lab" fill="#ffa133">Qatar</text>
<text x="1402" y="799.5" class="lab" fill="#bf9a5a" textLength="168.5" lengthAdjust="spacingAndGlyphs">Saudi Arabia</text>
<text x="1402" y="841" class="lab" fill="#633f2b" textLength="52" lengthAdjust="spacingAndGlyphs">UAE</text>
<g font-size="26" fill="#333"><text x="21.2" y="1113.6" textLength="87.2" lengthAdjust="spacingAndGlyphs">Source:</text><text x="114.3" y="1113.6" textLength="150.5" lengthAdjust="spacingAndGlyphs">Organization</text><text x="269.3" y="1113.6" textLength="23.4" lengthAdjust="spacingAndGlyphs">of</text><text x="299.1" y="1113.6" textLength="38.2" lengthAdjust="spacingAndGlyphs">the</text><text x="342.3" y="1113.6" textLength="122.0" lengthAdjust="spacingAndGlyphs">Petroleum</text><text x="470.3" y="1113.6" textLength="114.0" lengthAdjust="spacingAndGlyphs">Exporting</text><text x="588.3" y="1113.6" textLength="114.5" lengthAdjust="spacingAndGlyphs">Countries</text><text x="709.0" y="1113.6" textLength="80.1" lengthAdjust="spacingAndGlyphs">(OPEC)</text><text x="810.3" y="1113.6" textLength="96.7" lengthAdjust="spacingAndGlyphs">Collated</text><text x="914.2" y="1113.6" textLength="36.2" lengthAdjust="spacingAndGlyphs">by:</text><text x="954.6" y="1113.6" textLength="158.8" lengthAdjust="spacingAndGlyphs">Amwaj.media</text></g>
<circle cx="800.6" cy="1106.4" r="3.4" fill="#333"/>
<use href="#lg" transform="translate(1519,1066) scale(0.5)"/>
</svg>
</body></html>
